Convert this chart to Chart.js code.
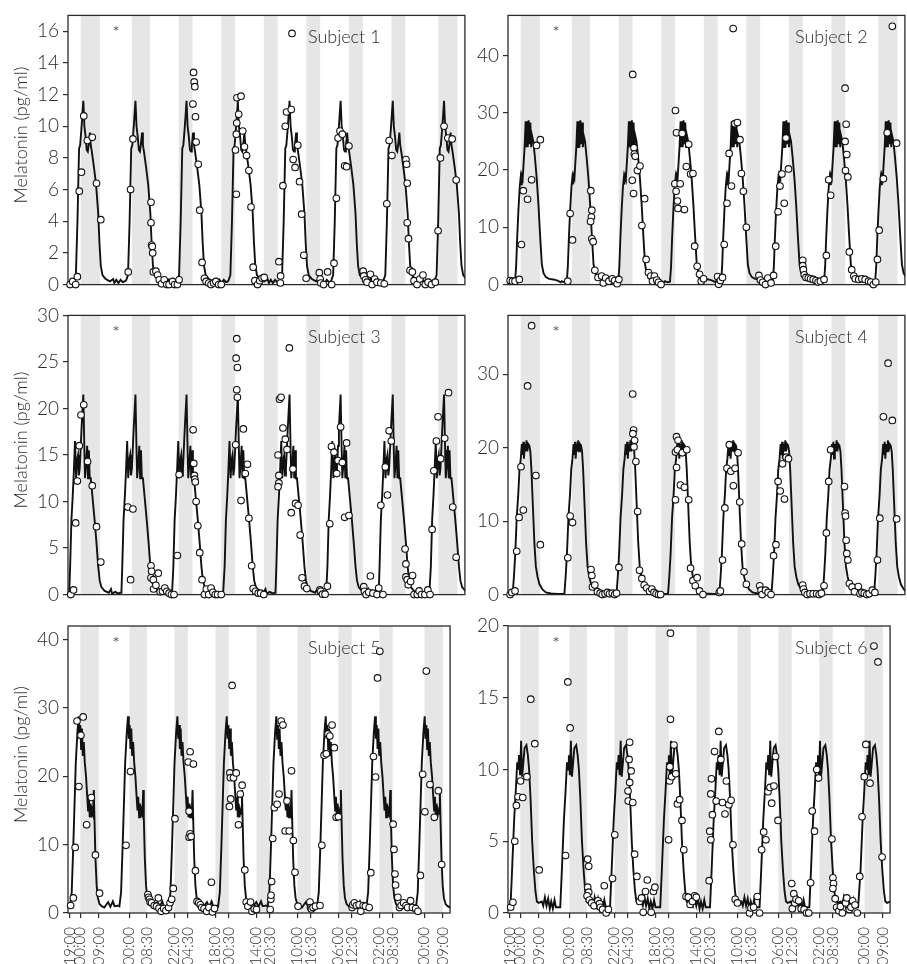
<!DOCTYPE html>
<html>
<head>
<meta charset="utf-8">
<title>Melatonin profiles</title>
<script src="https://cdn.jsdelivr.net/npm/chart.js@4.4.1/dist/chart.umd.min.js"></script>
<style>
  html, body { margin: 0; padding: 0; background: #fff; overflow: hidden; }
  #wrap { position: relative; width: 907px; height: 964px; overflow: hidden; }
  #wrap canvas { position: absolute; }
</style>
</head>
<body>
<div id="wrap"></div>
<script>
// x axis: hours elapsed since 19:00 on day 1
const tickHours = [0, 5, 14, 29, 37.5, 51, 57.5, 71, 77.5, 91, 97.5, 111, 117.5, 131, 137.5, 151, 157.5, 173, 182];
const tickLabels = ['19:00', '00:00', '09:00', '00:00', '08:30', '22:00', '04:30', '18:00', '00:30',
  '14:00', '20:30', '10:00', '16:30', '06:00', '12:30', '02:00', '08:30', '00:00', '09:00'];

// scheduled sleep episodes (grey bands)
const sleepStart = [5, 29, 51, 71, 91, 111, 131, 151, 173];
const sleepEnd = [14, 37.5, 57.5, 77.5, 97.5, 117.5, 137.5, 157.5, 182];

// measured samples [hour, pg/ml]
const s1Samples = [[0,0],[1.2,0.2],[2.6,0],[3.4,0.5],[4.3,5.9],[5.3,7.1],[6.4,10.65],[8.1,9.1],[10.4,9.3],[12.4,6.4],[14.4,4.1],
  [27.3,0.8],[28.4,6.0],[29.5,9.2],[38.0,5.2],[38.0,3.9],[38.3,2.5],[38.6,2.4],[38.8,2.0],[39.1,0.8],[40.3,0.85],[41.1,0.6],[41.9,0.3],[43.0,0.05],[44.2,0.3],[45.4,0],[46.5,0],[48.1,0.2],[49.1,0],[50.4,0],[51.2,0.3],
  [57.7,11.4],[58.0,13.4],[58.3,12.8],[58.6,12.5],[58.9,10.6],[59.2,9.0],[60.2,7.6],[60.9,4.7],[62.0,1.4],[63.1,0.4],[63.9,0.2],[65.1,0.1],[66.2,0],[67.4,0.1],[68.5,0.2],[69.8,0],[71.0,0],
  [77.7,8.5],[78.1,5.7],[78.1,9.5],[78.3,10.2],[78.4,11.8],[79.2,10.75],[80.3,11.9],[81.1,9.7],[81.9,8.7],[82.9,8.15],[84.0,7.2],[85.0,4.9],[86.0,1.1],[86.8,0.25],[88.1,0],[89.1,0.25],[90.2,0.4],[91.2,0.45],
  [98.1,1.45],[98.9,0.55],[98.8,0.1],[100.0,6.25],[101.1,10.0],[101.7,10.9],[103.9,11.05],[104.8,7.9],[105.7,7.4],[107.0,8.8],[107.8,6.5],[108.8,4.45],[109.8,1.85],[110.9,0.4],[117.1,0.75],[117.5,0.35],[117.8,0.1],[119.1,0],[121.0,0.8],[122.9,0],
  [124.0,1.35],[125.1,5.45],[125.9,9.25],[126.8,9.7],[127.9,9.5],[129.0,7.5],[129.9,7.45],[131.0,8.75],[137.7,0.85],[138.0,0.55],[138.8,0.3],[139.5,0.15],[141.1,0.65],[141.9,0],[143.1,0.35],[144.2,0.15],[146.0,0.1],[147.6,0.05],
  [148.8,5.1],[149.9,9.1],[151.2,8.15],[157.8,7.9],[158.1,7.6],[158.4,6.4],[158.4,3.9],[159.0,2.9],[159.7,0.9],[160.8,0.8],[161.6,0.25],[163.0,0],[164.3,0.35],[165.8,0.6],[166.9,0],[168.2,0.15],[169.8,0],[171.6,0.15],
  [172.9,3.4],[174.0,8.0],[175.7,10.0],[177.5,9.25],[179.5,9.2],[181.4,6.6]];

const s2Samples = [[0,0.7],[1.1,0.6],[2.3,0.6],[4.3,0.9],[5.3,7.0],[6.2,16.4],[8.2,14.9],[10.1,18.3],[12.4,24.3],[14.2,25.3],
  [27.1,0.6],[28.2,12.4],[29.3,7.8],[37.9,16.4],[38.4,13.0],[38.2,11.8],[37.8,11.0],[38.4,8.0],[39.0,7.5],[39.8,2.5],[41.3,1.25],[43.0,1.5],[43.8,0.3],[44.9,1.15],[46.4,0.6],[48.0,1.0],[49.1,0.7],[50.3,0.15],[51.1,0.9],
  [57.6,36.7],[58.2,23.9],[58.4,22.8],[58.8,22.4],[57.4,18.2],[58.0,15.9],[59.8,19.9],[61.0,20.7],[63.2,15.0],[61.9,10.3],[63.9,4.4],[65.0,2.1],[66.1,1.5],[67.8,1.5],[66.9,0.6],[68.9,0.8],[69.7,0.4],[70.9,0],
  [77.7,30.4],[78.2,26.5],[80.8,26.4],[77.4,17.6],[79.9,17.6],[78.0,16.3],[78.6,14.6],[78.9,13.3],[81.9,13.1],[82.8,20.6],[83.9,24.5],[84.8,19.3],[85.9,19.4],[86.7,6.7],[87.9,3.2],[89.0,1.8],[89.8,0.6],[90.9,1.0],
  [97.5,1.4],[98.0,0.05],[98.8,0.7],[99.8,1.25],[100.6,7.0],[101.9,14.2],[102.9,22.9],[104.0,17.2],[104.8,44.7],[105.6,28.1],[106.8,28.3],[108.0,25.3],[108.7,19.4],[109.6,16.3],[111.0,10.0],
  [116.9,1.6],[117.6,0.8],[118.7,0.4],[120.0,0],[121.1,1.15],[122.6,0.3],[123.8,1.6],
  [124.8,6.7],[125.9,12.7],[126.8,17.2],[127.7,19.3],[128.8,14.2],[129.6,25.6],[130.8,20.2],
  [137.5,4.25],[137.5,3.3],[137.8,2.6],[138.2,1.7],[139.0,1.25],[140.1,1.15],[141.2,1.0],[142.4,0.9],[143.7,0.7],[144.7,0.45],[145.8,0.6],[147.5,0.9],
  [148.6,5.1],[149.7,18.3],[150.6,15.6],[157.4,34.3],[157.9,28.0],[157.4,25.0],[158.2,22.7],[157.6,19.9],[158.7,18.8],[159.4,5.7],[160.5,2.6],[161.5,1.5],[162.2,1.0],[163.8,0.9],[165.3,1.0],[166.8,0.9],[168.4,0.6],[169.5,0.45],[170.7,0],[171.8,0.45],
  [172.6,4.4],[173.4,9.5],[175.4,18.5],[177.2,26.5],[179.6,45.1],[181.6,24.7]];

const s3Samples = [[0.3,0],[1.6,0.5],[2.6,7.7],[3.4,12.2],[4.3,16.0],[5.1,19.3],[6.4,20.4],[8.2,14.3],[10.4,11.7],[12.4,7.3],[14.4,3.5],
  [27.1,9.4],[28.4,1.6],[29.5,9.2],[38.0,3.1],[38.3,2.5],[38.0,1.8],[39.1,1.6],[39.2,0.6],[40.3,1.0],[41.4,2.3],[42.3,0.3],[43.4,0.35],[44.5,0.7],[45.4,0.35],[46.5,0.15],[47.6,0],[48.8,0],
  [50.4,4.2],[51.2,12.9],[57.8,17.7],[58.1,14.1],[58.4,12.8],[58.6,12.4],[58.8,12.1],[59.2,10.0],[60.0,7.4],[60.9,4.5],[62.0,1.6],[63.1,0],[64.0,0.6],[65.1,0],[66.2,0.7],[67.1,0.25],[68.2,0],[69.3,0],[71.0,0],
  [78.3,27.5],[78.0,25.4],[78.6,24.4],[78.3,22.0],[78.6,21.2],[77.8,16.1],[81.4,17.8],[83.3,14.0],[82.3,13.0],[80.3,10.1],[84.0,8.2],[85.3,3.1],[86.0,0.65],[87.1,0.35],[88.4,0.15],[89.5,0.15],[91.0,0],
  [97.7,15.0],[98.1,12.8],[98.1,12.0],[97.7,11.6],[98.4,21.0],[99.1,21.2],[103.0,26.5],[100.0,17.9],[101.1,16.7],[101.9,15.6],[103.9,8.8],[104.7,13.5],[105.9,9.8],[107.1,9.6],[108.1,6.4],[109.0,1.8],[110.1,0.9],[111.2,0.65],
  [117.4,0.5],[117.8,0.35],[118.6,0.05],[119.8,0.05],[120.9,0.9],
  [122.0,7.6],[122.8,15.9],[124.0,15.3],[125.3,13.0],[125.9,14.4],[127.1,18.0],[127.9,14.2],[129.0,8.3],[129.9,16.3],[131.0,8.5],
  [138.0,0.85],[138.3,0.35],[139.1,0],[140.3,0.25],[141.1,2.0],[142.3,0.15],[144.2,0],[145.0,0.7],[147.0,0],
  [146.0,9.6],[148.1,13.7],[149.1,10.7],[149.9,17.6],[150.9,16.5],[157.4,4.9],[157.8,3.3],[157.8,1.9],[158.4,1.6],[158.9,1.05],[160.0,1.4],[160.9,2.05],[161.6,0],[163.1,0],[164.0,0.4],[165.1,0],[166.7,0],[168.1,0.5],[169.1,0],
  [170.1,7.0],[170.9,13.3],[172.1,16.5],[172.9,19.1],[174.1,14.6],[176.0,16.8],[177.8,21.7],[179.8,9.4],[181.4,4.0]];

const s4Samples = [[0,0],[0.8,0.3],[2.3,0.5],[3.1,5.9],[4.2,10.5],[5.1,17.4],[6.2,11.5],[8.2,28.4],[10.1,36.6],[12.1,16.2],[14.2,6.8],
  [27.1,5.0],[28.2,10.7],[29.3,9.8],[38.0,3.4],[38.4,2.6],[38.7,1.05],[39.8,1.3],[41.0,0.4],[42.3,0.2],[43.3,0],[44.6,0.1],[45.7,0.3],[46.7,0.1],[48.0,0.2],[49.1,0],[50.0,0.2],
  [51.1,3.7],[57.6,27.3],[58.0,22.4],[57.7,21.9],[58.5,21.0],[58.2,20.1],[59.1,18.1],[59.9,11.3],[60.8,3.3],[61.9,2.2],[63.0,1.3],[64.2,0.9],[65.5,0.45],[66.6,0.75],[67.6,0.3],[68.6,0.1],[69.7,0],[70.7,0],
  [77.7,12.9],[77.7,19.4],[78.2,21.5],[78.2,17.3],[78.6,19.7],[78.9,21.0],[80.0,14.9],[80.9,19.3],[81.9,14.6],[83.0,19.7],[83.9,12.9],[84.8,3.6],[85.9,1.9],[87.0,1.2],[87.9,2.3],[89.0,0.5],[90.6,0],
  [98.3,0.3],[98.8,0.5],[99.8,4.7],[100.9,11.8],[101.9,17.2],[103.0,20.4],[103.7,16.8],[104.9,14.8],[105.7,17.2],[107.1,19.3],[107.9,12.6],[108.8,6.9],[109.9,3.1],[111.0,1.4],
  [117.3,1.2],[117.9,0.6],[118.4,0],[120.0,0.6],[121.2,0.3],[122.6,0],
  [123.8,5.3],[124.9,6.8],[125.9,15.4],[126.9,14.1],[128.0,17.8],[128.9,13.0],[129.7,18.7],[130.8,18.5],
  [137.5,1.3],[137.8,0.75],[138.5,0.3],[139.6,0],[140.9,0.1],[142.4,0.1],[144.0,0.1],[145.2,0],[146.3,0.2],[147.5,1.2],
  [148.6,8.4],[149.7,15.4],[150.6,19.7],[157.1,14.7],[157.4,11.1],[157.6,10.7],[157.9,7.4],[158.2,5.6],[158.7,4.7],[159.4,1.5],[160.7,1.05],[161.8,0.4],[163.6,1.1],[164.4,0.1],[165.3,0.3],[166.4,0.2],[167.6,0],[168.7,0.1],[170.2,0.6],[171.4,0.3],
  [172.6,4.7],[173.7,10.4],[175.4,24.2],[177.6,31.5],[179.6,23.7],[181.6,10.3]];

const s5Samples = [[0.3,1.1],[1.6,2.2],[2.5,9.6],[3.4,28.1],[4.3,18.5],[5.3,26.0],[6.4,28.7],[8.1,12.9],[10.4,16.9],[12.4,8.5],[14.4,2.9],
  [27.3,9.9],[29.5,20.7],[38.0,2.7],[38.3,2.3],[38.8,2.0],[39.1,1.6],[39.8,1.5],[41.1,1.1],[42.2,1.0],[43.1,2.2],[43.4,0.7],[44.5,0.25],[45.7,0.65],[46.8,0.35],[48.1,0.8],[48.8,1.5],[49.6,2.0],[50.4,3.6],[51.2,13.8],
  [58.1,14.9],[57.7,22.1],[58.6,23.6],[60.2,21.8],[58.1,11.1],[58.6,11.6],[59.1,11.2],[61.2,6.2],[62.0,1.7],[62.8,1.5],[63.6,1.2],[64.3,0.8],[65.4,0.65],[66.7,0.25],[67.8,0.8],[69.0,4.5],[69.5,0.15],[70.5,0.65],
  [79.1,33.3],[78.0,20.5],[78.3,19.8],[77.8,15.6],[78.4,16.7],[79.8,19.8],[81.1,20.5],[82.2,12.9],[83.1,17.4],[84.0,18.7],[85.3,6.3],[86.0,1.6],[86.8,1.0],[88.1,1.6],[88.8,0.25],[89.9,0.6],[91.0,0.5],
  [97.7,0.5],[98.0,2.0],[98.1,2.6],[98.4,4.6],[98.9,10.9],[99.7,15.4],[101.1,15.9],[102.0,17.4],[103.1,28.1],[103.9,27.5],[105.0,12.0],[105.9,16.4],[107.0,12.0],[108.1,20.8],[109.0,10.6],[109.8,5.95],[111.3,1.0],
  [117.1,1.6],[117.4,0.8],[117.8,0.6],[118.6,0.8],[119.8,1.0],[122.0,1.1],
  [122.9,9.9],[124.0,23.1],[125.1,23.3],[125.9,26.2],[126.8,25.9],[127.9,27.5],[129.0,24.2],[129.9,14.0],[131.0,14.1],
  [137.7,0.8],[138.0,1.2],[138.8,1.5],[139.8,1.1],[141.1,1.2],[141.9,0.25],[143.1,1.1],[144.2,1.0],[146.0,0.8],
  [146.8,5.9],[148.1,22.9],[149.1,19.9],[150.1,34.4],[151.2,38.3],[157.7,13.0],[158.1,9.3],[158.6,5.7],[158.9,4.1],[160.0,2.3],[160.8,0.8],[161.6,1.1],[162.8,1.5],[164.0,1.1],[164.8,0.8],[166.2,1.8],[167.1,0.8],[168.7,0.65],[169.8,0.25],
  [171.0,5.5],[172.1,20.3],[173.2,14.8],[173.9,35.4],[175.7,18.8],[177.8,14.0],[179.8,17.9],[181.4,7.1]];

const s6Samples = [[0.3,0.4],[1.4,0.75],[2.3,5.0],[3.1,7.5],[3.9,8.1],[5.1,9.2],[6.2,8.05],[8.2,9.5],[10.1,14.9],[12.1,11.8],[14.2,3.0],
  [27.1,4.0],[28.2,16.1],[29.3,12.9],[37.9,3.75],[38.4,3.25],[37.9,1.8],[38.4,1.45],[37.6,1.2],[38.7,0.9],[39.8,0.7],[41.0,0.5],[42.9,0.85],[43.7,0.65],[44.1,0.4],[45.2,0.25],[46.0,1.9],[46.9,0],[48.0,0.25],
  [50.0,2.4],[51.1,5.45],[58.4,11.9],[58.1,10.7],[59.1,9.9],[58.4,9.1],[57.6,8.5],[57.7,7.8],[59.9,7.7],[60.8,4.1],[61.9,2.55],[63.2,0.8],[64.2,1.05],[65.0,0.05],[66.1,1.5],[67.0,2.3],[68.9,0.05],[70.0,1.5],[70.7,1.8],
  [77.4,5.1],[77.9,9.2],[78.3,13.5],[78.3,19.5],[78.0,10.2],[78.9,9.5],[80.0,11.7],[80.9,9.7],[81.7,7.6],[82.8,7.9],[83.9,6.45],[84.8,4.4],[85.9,1.15],[87.0,1.1],[87.9,0.6],[89.0,0.8],[90.1,1.2],[90.9,1.1],
  [97.2,2.25],[98.0,5.1],[97.5,5.7],[98.0,8.3],[98.3,9.35],[98.8,6.85],[99.8,11.25],[100.6,7.8],[101.9,12.65],[102.9,10.7],[103.7,7.7],[104.9,6.9],[105.6,9.2],[106.8,7.55],[107.9,7.85],[108.8,4.75],[109.9,0.95],[111.0,0.7],
  [116.9,0],[117.6,0.35],[118.9,0.4],[120.7,1.15],[121.8,0],
  [122.8,4.4],[123.8,5.65],[124.9,5.1],[125.9,8.45],[126.9,8.75],[127.7,7.65],[128.8,8.85],[129.6,10.9],[130.8,6.45],
  [137.5,2.05],[137.8,0.3],[138.5,1.35],[139.0,0.7],[139.6,0.95],[140.9,0.85],[142.1,0.3],[143.5,0.25],[144.7,0],[145.8,0],
  [146.7,2.1],[147.5,7.1],[148.6,5.7],[149.7,10.0],[150.6,9.4],[157.1,5.15],[157.6,2.45],[157.9,2.05],[157.6,1.7],[158.7,1.0],[159.4,0.4],[160.5,0.15],[161.3,0.45],[162.2,0],[163.8,0.7],[164.4,1.05],[165.6,0.25],[166.4,0.4],[167.2,0.85],[168.4,0.55],[169.5,0],
  [170.7,2.55],[171.8,6.7],[172.9,9.5],[173.7,11.75],[175.7,9.05],[177.6,18.6],[179.6,17.5],[181.6,3.9]];

// fitted curve: hour of each cycle's reference point, and the curve around it [offset h, pg/ml]
const s1Cycles = [6.2, 30.7, 54.7, 78.8, 103.1, 127.1, 151.6, 175.7];
const s1Curve = [[-4.3,0.3],[-3.5,0.6],[-2.75,4],[-2.0,8.6],[-1.5,8.8],[-0.9,9.8],[-0.4,10.8],[0,11.6],[0.5,10],[1.1,9.3],[1.6,8.5],[2.1,8.4],[2.5,8.8],[3.1,9.6],[3.5,8.8],[4.0,8.4],[5.0,7.4],[6.0,6.3],[7.0,4.5],[7.6,2.6],[8.2,1.2],[9.0,0.6],[10.5,0.35],[12.5,0.2],[14.0,0.35],[14.6,0.1],[15.5,0.3],[16.5,0.1],[17.5,0.3],[18.5,0.15],[19.4,0.2]];

const s2Cycles = [2.3, 26.6, 50.8, 75.1, 99.1, 123.4, 147.5, 171.5];
const s2Curve = [[-2.3,0.6],[-1.2,0.4],[0,0.5],[0.5,3],[1.0,8],[1.6,13],[2.2,17],[2.6,18.5],[2.9,17.5],[3.2,19],[3.6,18.5],[4.0,21],[4.5,24],[5.0,28.5],[5.3,24],[5.7,28.5],[6.0,24],[6.4,28.7],[6.8,24.5],[7.2,28.3],[7.6,24],[8.0,26],[8.6,25],[9.4,22],[10.2,18.5],[11.0,14],[11.8,8.5],[12.6,3.5],[13.4,2.0],[14.5,1.3],[16,1.0],[18,0.9],[20,0.7],[21.5,0.4]];

const s3Cycles = [6.2, 30.7, 54.7, 78.8, 103.1, 127.1, 151.6, 175.7];
const s3Curve = [[-6.6,0.2],[-6.2,3],[-5.6,8],[-5.0,10.5],[-4.5,13],[-3.9,16.5],[-3.4,12.5],[-2.9,14.5],[-2.5,15.0],[-2.1,12.8],[-1.7,13.5],[-1.2,16],[-0.8,18],[0,21.5],[0.5,15.5],[0.8,12.5],[1.3,14],[1.8,16],[2.2,12.5],[2.6,15.5],[3.0,12.5],[3.5,12.5],[4.3,10.5],[5.3,8],[6.2,5.5],[7.0,3],[7.7,1.5],[8.5,0.8],[10,0.4],[12.0,0.2],[13.0,0.6],[13.5,0.1],[15.0,0.3],[16.5,0.1],[17.2,0.2]];

const s4Cycles = [1.2, 25.5, 50.0, 74.2, 98.3, 122.8, 146.9, 171.0];
const s4Curve = [[-1.2,0.1],[0,0.1],[0.6,2.5],[1.2,5.5],[1.9,10.5],[2.6,13.5],[3.2,17],[3.8,18.5],[4.3,20.5],[4.6,19],[5.0,20.8],[5.3,18.5],[5.7,20.5],[6.1,19.5],[6.5,21],[6.9,19.5],[7.3,20.5],[7.8,20.3],[8.3,19.5],[8.8,17],[9.5,12],[10.2,7],[10.9,3.8],[11.7,2.4],[12.6,1.4],[14.0,0.7],[15.6,0.3],[18,0.15],[21,0.1],[22.8,0.1]];

const s5Cycles = [4.2, 28.3, 52.4, 76.5, 100.7, 124.8, 148.9, 173.1];
const s5Curve = [[-4.2,1.0],[-3.4,3],[-2.6,10],[-1.4,22],[-0.6,26.5],[0,28.8],[0.4,25.5],[0.8,27.5],[1.2,24],[1.6,27],[2.0,23],[2.5,25],[3.0,22],[3.6,20],[4.2,17],[4.6,15],[5.0,17],[5.4,14],[5.8,16],[6.2,14],[6.6,15],[7.0,14.5],[7.4,18],[7.7,14],[8.2,8],[8.8,4],[9.4,2.2],[10.2,1.3],[11.2,1.0],[12.5,0.8],[14.4,1.6],[15.5,0.9],[16.7,1.7],[17.5,1.0],[19.5,1.1]];

const s6Cycles = [5.4, 29.7, 54.0, 78.5, 102.8, 127.0, 151.3, 175.5];
const s6Curve = [[-5.2,0.4],[-4.4,3],[-3.4,6.5],[-2.6,8.5],[-1.9,10.5],[-1.4,10],[-1.0,11],[-0.5,9.6],[0,12],[0.5,9.5],[1.1,10.5],[1.7,11.5],[2.6,11.7],[3.3,11],[3.9,10],[4.6,8],[5.4,5],[6.2,3],[7.0,1.5],[7.7,0.8],[8.5,0.7],[10.1,0.8],[10.8,0.5],[11.6,1.1],[12.4,0.5],[13.2,1.0],[14.0,0.3],[14.7,0.8],[15.5,0.3],[16.3,0.9],[17.0,0.4],[18.6,0.4]];

// y axis ticks and tops
const s1YTicks = [0, 2, 4, 6, 8, 10, 12, 14, 16];
const s2YTicks = [0, 10, 20, 30, 40];
const s3YTicks = [0, 5, 10, 15, 20, 25, 30];
const s4YTicks = [0, 10, 20, 30];
const s5YTicks = [0, 10, 20, 30, 40];
const s6YTicks = [0, 5, 10, 15, 20];
const yTops = [17, 47, 30, 38, 42, 20];

const FONT = 'Lato, "Open Sans", sans-serif';
const INK = '#2b2b2b';
Chart.defaults.font.family = FONT;
Chart.defaults.font.weight = '300';
Chart.defaults.color = INK;

// canvas boxes per row / column
const rows = [
  { top: 0, height: 300, padTop: 4, axisH: 9 },
  { top: 300, height: 310, padTop: 15, axisH: 8 },
  { top: 610, height: 354, padTop: 16, axisH: 51 }
];
const cols = [
  { left: 0, width: 470, axisW: 68, labelX: 240 },
  { left: 470, width: 440, axisW: 38, labelX: 287 }
];

const subjects = [
  { samples: s1Samples, cycles: s1Cycles, curve: s1Curve, yTicks: s1YTicks },
  { samples: s2Samples, cycles: s2Cycles, curve: s2Curve, yTicks: s2YTicks },
  { samples: s3Samples, cycles: s3Cycles, curve: s3Curve, yTicks: s3YTicks },
  { samples: s4Samples, cycles: s4Cycles, curve: s4Curve, yTicks: s4YTicks },
  { samples: s5Samples, cycles: s5Cycles, curve: s5Curve, yTicks: s5YTicks },
  { samples: s6Samples, cycles: s6Cycles, curve: s6Curve, yTicks: s6YTicks }
];

function curvePoints(cycles, curve) {
  const pts = [];
  cycles.forEach(c => curve.forEach(([dx, v]) => pts.push({ x: Math.round((c + dx) * 100) / 100, y: v })));
  return pts;
}

// sleep bands, frame, asterisk, subject label and axis title
const decor = {
  id: 'decor',
  beforeDatasetsDraw(chart, args, opts) {
    const { ctx, chartArea: a, scales: { x } } = chart;
    ctx.save();
    ctx.fillStyle = '#e6e6e6';
    sleepStart.forEach((s, i) => {
      const x0 = x.getPixelForValue(s), x1 = x.getPixelForValue(sleepEnd[i]);
      ctx.fillRect(x0, a.top, x1 - x0, a.bottom - a.top);
    });
    ctx.strokeStyle = INK;
    ctx.lineWidth = 1.3;
    ctx.strokeRect(a.left, a.top, a.right - a.left, a.bottom - a.top);

    ctx.fillStyle = INK;
    ctx.textBaseline = 'alphabetic';
    ctx.textAlign = 'center';
    ctx.font = '300 18px ' + FONT;
    ctx.fillText('*', a.left + 48, a.top + 24);

    ctx.textAlign = 'left';
    ctx.fillText(opts.label, a.left + opts.labelX, a.top + 28);

    if (opts.legend) {
      ctx.beginPath();
      ctx.arc(a.left + opts.labelX - 16, a.top + 18, 3.3, 0, Math.PI * 2);
      ctx.fillStyle = '#fff';
      ctx.fill();
      ctx.lineWidth = 1.1;
      ctx.strokeStyle = '#111';
      ctx.stroke();
    }

    if (opts.yTitle) {
      ctx.translate(21, (a.top + a.bottom) / 2 - 15);
      ctx.rotate(-Math.PI / 2);
      ctx.textAlign = 'center';
      ctx.textBaseline = 'middle';
      ctx.fillStyle = INK;
      ctx.font = '300 18px ' + FONT;
      ctx.fillText('Melatonin (pg/ml)', 0, 0);
    }
    ctx.restore();
  }
};

const wrap = document.getElementById('wrap');

subjects.forEach((s, i) => {
  const row = rows[Math.floor(i / 2)];
  const col = cols[i % 2];
  const bottomRow = i >= 4;

  const canvas = document.createElement('canvas');
  canvas.width = col.width;
  canvas.height = row.height;
  canvas.style.left = col.left + 'px';
  canvas.style.top = row.top + 'px';
  wrap.appendChild(canvas);

  new Chart(canvas.getContext('2d'), {
    type: 'scatter',
    data: {
      datasets: [
        {
          data: s.samples.map(([x, y]) => ({ x, y })),
          pointRadius: 3.3,
          pointBorderWidth: 1.1,
          pointBackgroundColor: '#fff',
          pointBorderColor: '#111',
          clip: false,
          order: 0
        },
        {
          data: curvePoints(s.cycles, s.curve),
          showLine: true,
          borderColor: '#111',
          borderWidth: 1.9,
          pointRadius: 0,
          order: 1
        }
      ]
    },
    options: {
      responsive: false,
      animation: false,
      devicePixelRatio: 1,
      events: [],
      layout: { padding: { top: row.padTop, right: 2, left: 0, bottom: 0 } },
      plugins: {
        legend: { display: false },
        tooltip: { enabled: false },
        decor: {
          label: 'Subject ' + (i + 1),
          labelX: col.labelX,
          legend: i === 0,
          yTitle: i % 2 === 0
        }
      },
      scales: {
        x: {
          type: 'linear',
          min: -1,
          max: 185.5,
          afterBuildTicks: sc => { sc.ticks = tickHours.map(v => ({ value: v })); },
          afterFit: sc => { sc.height = row.axisH; },
          border: { display: false },
          grid: {
            display: bottomRow,
            drawOnChartArea: false,
            drawTicks: true,
            tickLength: 5,
            color: INK,
            lineWidth: 1.2
          },
          ticks: {
            display: bottomRow,
            autoSkip: false,
            minRotation: 90,
            maxRotation: 90,
            padding: 9,
            font: { size: 15 },
            callback: (v, idx) => tickLabels[idx]
          }
        },
        y: {
          min: 0,
          max: yTops[i],
          afterBuildTicks: sc => { sc.ticks = s.yTicks.map(v => ({ value: v })); },
          afterFit: sc => { sc.width = col.axisW; },
          border: { display: false },
          grid: {
            drawOnChartArea: false,
            drawTicks: true,
            tickLength: 5,
            color: INK,
            lineWidth: 1.2
          },
          ticks: {
            padding: 4,
            font: { size: 19 },
            callback: v => String(v)
          }
        }
      }
    },
    plugins: [decor]
  });
});
</script>
</body>
</html>
